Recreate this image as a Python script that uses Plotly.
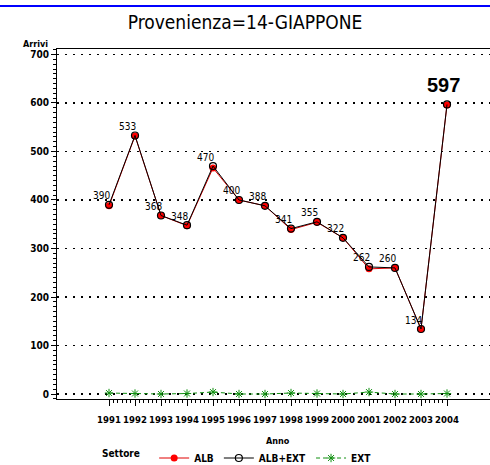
import numpy as np
import plotly.graph_objects as go

# ---- data ----
years = list(range(1991, 2005))
year_labels = [str(y) for y in years]
alb_ext = [390, 533, 368, 348, 470, 400, 388, 341, 355, 322, 262, 260, 134, 597]
alb = [388, 532, 368, 347, 466, 400, 388, 339, 354, 322, 258, 260, 134, 596]
ext = [2, 1, 0, 1, 4, 0, 0, 2, 1, 0, 4, 0, 0, 1]
y_ticks = list(range(0, 701, 100))

NARROW = "DejaVu Sans Condensed, Roboto Condensed, Liberation Sans Narrow, Roboto, sans-serif"

fig = go.Figure()
fig.add_trace(go.Scatter(
    x=years, y=alb, name="ALB", mode="lines+markers",
    line=dict(color="#e00000", width=1),
    marker=dict(symbol="circle", size=7, color="#ff0000", line=dict(color="#ff0000", width=0)),
))
fig.add_trace(go.Scatter(
    x=years, y=alb_ext, name="ALB+EXT", mode="lines+markers",
    line=dict(color="black", width=1),
    marker=dict(symbol="circle-open", size=7, color="black", line=dict(color="black", width=1.2)),
))
fig.add_trace(go.Scatter(
    x=years, y=ext, name="EXT", mode="lines+markers",
    line=dict(color="#119011", width=1, dash="4px,3px"),
    marker=dict(symbol="asterisk-open", size=7, line=dict(color="#119011", width=1)),
))

# value labels
annotations = []
for i, (yr, v) in enumerate(zip(years, alb_ext)):
    if i == len(years) - 1:
        annotations.append(dict(x=yr, y=v, xref="x", yref="y", text=str(v), showarrow=False,
                                xshift=-4, yshift=19,
                                font=dict(family="Liberation Sans, Arial, sans-serif", size=20,
                                          color="black", weight="bold")))
    else:
        annotations.append(dict(x=yr, y=v, xref="x", yref="y", text=str(v), showarrow=False,
                                xshift=-8, yshift=9,
                                font=dict(family=NARROW, size=10, color="black")))

annotations.append(dict(x=-0.0485, y=1.014, xref="paper", yref="paper", text="Arrivi",
                        showarrow=False, xanchor="center", yanchor="middle",
                        font=dict(family=NARROW, size=9, color="black", weight="bold")))
annotations.append(dict(x=1997.5, y=-0.12, xref="x", yref="paper", text="Anno",
                        showarrow=False, xanchor="center", yanchor="middle",
                        font=dict(family=NARROW, size=9, color="black", weight="bold")))

minor_x = [y + k / 6 for y in years[:-1] for k in range(1, 6)]

fig.update_layout(
    width=490, height=465,
    margin=dict(l=57, r=0, t=49, b=66, autoexpand=False),
    paper_bgcolor="white", plot_bgcolor="white",
    hovermode=False,
    title=dict(text="Provenienza=14-GIAPPONE", x=245 / 490, xanchor="center", xref="container",
               y=1 - 22 / 465, yanchor="middle",
               font=dict(family=NARROW, size=19, color="black")),
    font=dict(family=NARROW, size=10, color="black"),
    xaxis=dict(
        range=[1989, 2005.654], tickmode="array", tickvals=years, ticktext=year_labels,
        ticks="outside", ticklen=6, tickcolor="black", tickwidth=1, tickangle=0,
        ticklabelstandoff=6,
        showline=True, linecolor="black", linewidth=1, mirror=True,
        showgrid=False, zeroline=False,
        tickfont=dict(family=NARROW, size=9.5, color="black", weight="bold"),
        minor=dict(tickmode="array", tickvals=minor_x, ticks="outside", ticklen=3,
                   tickcolor="black", showgrid=False),
    ),
    yaxis=dict(
        range=[-10.3, 711.3], tickmode="array", tickvals=y_ticks,
        ticks="outside", ticklen=5, tickcolor="black", tickwidth=1,
        showline=True, linecolor="black", linewidth=1,
        showgrid=True, gridcolor="black", griddash="2px,6px", gridwidth=1.3,
        zeroline=False,
        tickfont=dict(family=NARROW, size=10, color="black", weight="bold"),
        minor=dict(dtick=10, tick0=0, ticks="outside", ticklen=3, tickcolor="black", showgrid=False),
    ),
    legend=dict(orientation="h", x=0.0993, xanchor="left", y=-0.1686, yanchor="middle",
                title=dict(text="Settore  ", side="left",
                           font=dict(family=NARROW, size=10, color="black", weight="bold")),
                font=dict(family=NARROW, size=10, color="black", weight="bold"),
                bgcolor="rgba(0,0,0,0)"),
    annotations=annotations,
    shapes=[dict(type="line", xref="paper", yref="paper", x0=-0.14, x1=1.0,
                 y0=(399 - 6) / 350, y1=(399 - 6) / 350, line=dict(color="blue", width=2))],
    showlegend=True,
)

fig.write_html(
    "out.html",
    config={"displayModeBar": False, "staticPlot": True},
    post_script="document.body.style.margin='0px';"
                "document.body.style.overflow='hidden';"
                "document.documentElement.style.overflow='hidden';",
)
